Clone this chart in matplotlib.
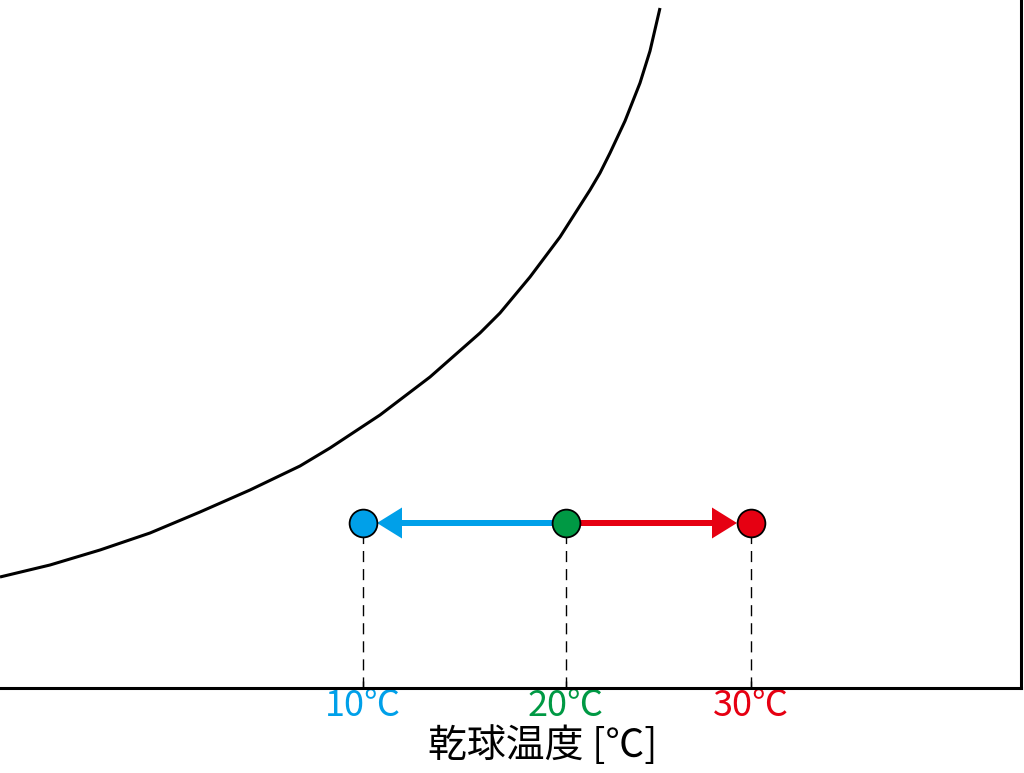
import matplotlib
matplotlib.use("Agg")
import matplotlib.pyplot as plt

plt.rcParams['font.family'] = ['Noto Sans CJK JP', 'DejaVu Sans']

# saturation curve (chart units, height above the axis)
curve_x = [0, 50, 100, 150, 200, 250, 300, 330, 380, 430, 480, 500, 530, 560,
           590, 600, 610, 625, 640, 650, 660]
curve_y = [111, 123, 138, 155, 176, 198, 222, 240, 273, 311, 355, 375, 411, 451,
           498, 515, 535, 567, 605, 637, 680]

# dry-bulb states
temps = ['10℃', '20℃', '30℃']
point_x = [363, 566, 751]
point_y = 165
colors = ['#00A0E9', '#009944', '#E60012']

fig = plt.figure(figsize=(10.24, 7.73), dpi=100)
ax = fig.add_axes([0, 85 / 773, 1021 / 1024, 688 / 773])
ax.set_xlim(0, 1021)
ax.set_ylim(0, 688)

ax.plot(curve_x, curve_y, color='black', lw=2.2, solid_capstyle='butt',
        solid_joinstyle='round')

# arrows from the 20℃ state
r = 14
ax.arrow(point_x[1], point_y, (point_x[0] + r) - point_x[1], 0, width=6,
         head_width=31, head_length=25, length_includes_head=True,
         color=colors[0], lw=0, zorder=3)
ax.arrow(point_x[1], point_y, (point_x[2] - r) - point_x[1], 0, width=6,
         head_width=31, head_length=25, length_includes_head=True,
         color=colors[2], lw=0, zorder=3)

for x, c in zip(point_x, colors):
    ax.plot([x, x], [0, point_y], color='black', lw=1, ls=(0, (8, 5)), zorder=2)
    ax.plot(x, point_y, 'o', ms=20, mfc=c, mec='black', mew=1.3, zorder=4)

for s in ['left', 'top']:
    ax.spines[s].set_visible(False)
for s in ['right', 'bottom']:
    ax.spines[s].set_linewidth(2.2)

ax.set_yticks([])
ax.set_xticks(point_x)
ax.set_xticklabels(temps, fontsize=26)
ax.tick_params(axis='x', direction='in', length=5, width=1, pad=0)
for lab, c in zip(ax.get_xticklabels(), colors):
    lab.set_color(c)

ax.set_xlabel('乾球温度 [℃]', fontsize=28, labelpad=0)
ax.xaxis.set_label_coords(543 / 1021, -0.055)

fig.savefig('out.png', dpi=100)
